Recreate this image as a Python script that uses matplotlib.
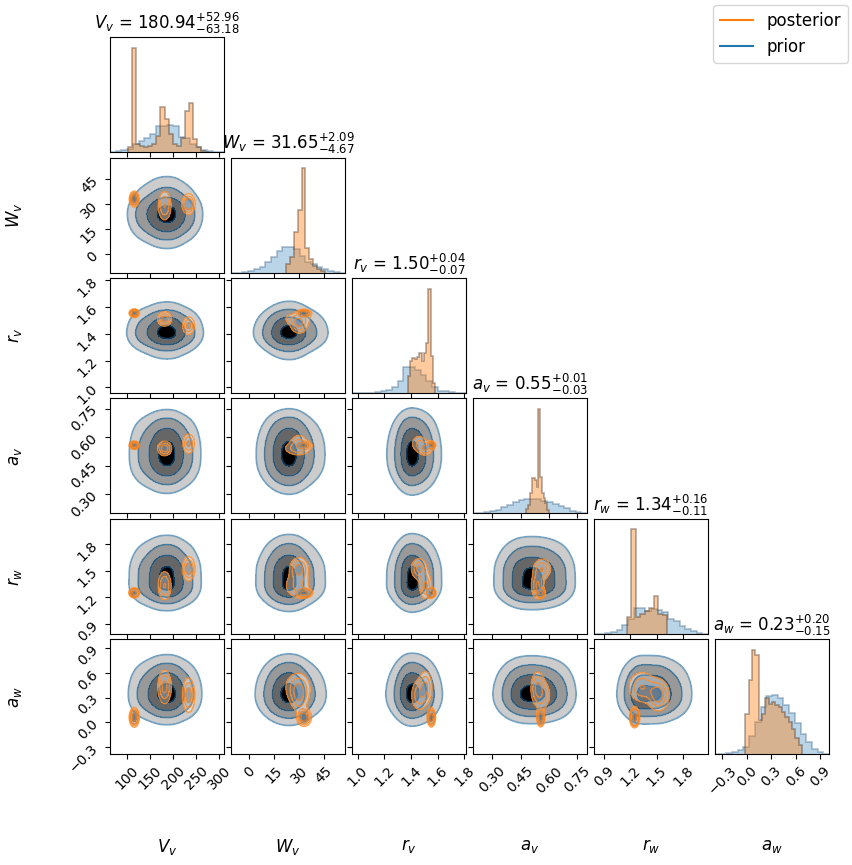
import numpy as np
import matplotlib
matplotlib.use("Agg")
import matplotlib.pyplot as plt
from matplotlib.lines import Line2D

labels = [r"$V_v$", r"$W_v$", r"$r_v$", r"$a_v$", r"$r_w$", r"$a_w$"]
limits = [(62.4, 310.8), (-10.8, 57.7), (0.958, 1.815),
          (0.198, 0.803), (0.79, 2.08), (-0.39, 1.01)]
ticks = [[100, 150, 200, 250, 300], [0, 15, 30, 45], [1.0, 1.2, 1.4, 1.6, 1.8],
         [0.30, 0.45, 0.60, 0.75], [0.9, 1.2, 1.5, 1.8], [-0.3, 0.0, 0.3, 0.6, 0.9]]

# median and errors shown in the titles
med = [180.94, 31.65, 1.50, 0.55, 1.34, 0.23]
err_hi = [52.96, 2.09, 0.04, 0.01, 0.16, 0.20]
err_lo = [63.18, 4.67, 0.07, 0.03, 0.11, 0.15]

# prior histograms, 20 bins over each axis range
prior_vv = [0, 3, 5, 10, 25, 33, 43, 55, 78, 78, 80, 78, 45, 43, 25, 15, 5, 3, 1, 0]
prior_wv = [0, 0, 2, 5, 10, 17, 30, 47, 65, 75, 77, 70, 50, 30, 25, 15, 10, 5, 1, 0]
prior_rv = [0, 0, 0, 1, 2, 6, 10, 19, 37, 79, 79, 70, 55, 35, 17, 7, 6, 2, 0, 0]
prior_av = [0, 1, 3, 6, 10, 18, 25, 35, 40, 42, 42, 42, 38, 34, 28, 22, 15, 8, 4, 2]
prior_rw = [0, 1, 3, 6, 12, 28, 45, 78, 78, 70, 75, 72, 65, 45, 40, 25, 15, 8, 3, 1]
prior_aw = [0, 1, 3, 6, 12, 22, 55, 95, 140, 175, 177, 167, 147, 122, 92, 62, 37, 17, 7, 2]
prior_counts = [prior_vv, prior_wv, prior_rv, prior_av, prior_rw, prior_aw]

# posterior histograms, each over its own range
post_vv = [16, 311, 23, 18, 15, 18, 25, 48, 133, 98, 55, 25, 18, 43, 123, 146, 40, 15, 3, 0]
post_wv = [25, 47, 120, 185, 310, 73, 40, 20, 10, 4]
post_rv = [52, 95, 105, 100, 108, 118, 95, 120, 150, 312, 110, 30]
post_av = [12, 25, 60, 105, 105, 100, 80, 312, 110, 60, 45, 30, 10]
post_rw = [52, 315, 50, 60, 68, 78, 113, 60, 57]
post_aw = [120, 222, 312, 297, 102, 120, 167, 150, 155, 148, 140, 125, 110, 95, 75, 50, 27]
post_counts = [post_vv, post_wv, post_rv, post_av, post_rw, post_aw]
post_ranges = [(101.6, 277.6), (22.3, 45.3), (1.3775, 1.5825),
               (0.4807, 0.600), (1.1625, 1.618), (-0.015, 0.676)]

# posterior modes seen in the 2D panels: weight, centre, width
mode_weight = [0.3, 0.35, 0.35]
mode_mu = [[115, 181, 233], [33, 29, 30], [1.553, 1.51, 1.46],
           [0.557, 0.54, 0.565], [1.25, 1.33, 1.52], [0.06, 0.43, 0.33]]
mode_sd = [[4.5, 8, 7], [2, 4.8, 3], [0.013, 0.028, 0.035],
           [0.009, 0.02, 0.028], [0.022, 0.09, 0.07], [0.05, 0.11, 0.11]]

mass_levels = [0.118, 0.393, 0.675, 0.865]

n = len(labels)
ngrid = 100
grids = [np.linspace(lo, hi, ngrid) for lo, hi in limits]


def prior_profile(k):
    lo, hi = limits[k]
    edges = np.linspace(lo, hi, len(prior_counts[k]) + 1)
    idx = np.clip(np.searchsorted(edges, grids[k]) - 1, 0, len(prior_counts[k]) - 1)
    p = np.asarray(prior_counts[k], float)[idx]
    kern = np.exp(-0.5 * (np.arange(-15, 16) / 5.0) ** 2)
    return np.convolve(p, kern / kern.sum(), mode="same")


def mode_profile(k, m):
    g = grids[k]
    return np.exp(-0.5 * ((g - mode_mu[k][m]) / mode_sd[k][m]) ** 2) / mode_sd[k][m]


def density_levels(H):
    hs = np.sort(H.ravel())[::-1]
    cum = np.cumsum(hs)
    cum /= cum[-1]
    return np.sort([hs[min(np.searchsorted(cum, q), len(hs) - 1)] for q in mass_levels])


prior_p = [prior_profile(k) for k in range(n)]

prior_fill = [(0, 0, 0, 0.2), (0, 0, 0, 0.4), (0, 0, 0, 0.6), (0, 0, 0, 1.0)]
post_fill = [(1, 1, 1, 0.45), (0.78, 0.84, 0.9, 0.6), (0.55, 0.65, 0.75, 0.75), (0.35, 0.45, 0.55, 0.9)]

fig, axes = plt.subplots(n, n, figsize=(8.53, 8.65), dpi=100)
fig.subplots_adjust(left=0.129, right=0.972, bottom=0.128, top=0.957, wspace=0.058, hspace=0.048)

for i in range(n):
    for j in range(n):
        ax = axes[i, j]
        if j > i:
            ax.set_axis_off()
            continue
        if i == j:
            lo, hi = limits[i]
            pe = np.linspace(lo, hi, len(prior_counts[i]) + 1)
            ax.stairs(prior_counts[i], pe, fill=True, color="C0", alpha=0.3, lw=0)
            ax.stairs(prior_counts[i], pe, color="#1f4f74", alpha=0.35, lw=1.2)
            qe = np.linspace(*post_ranges[i], len(post_counts[i]) + 1)
            ax.stairs(post_counts[i], qe, fill=True, color="C1", alpha=0.4, lw=0)
            ax.stairs(post_counts[i], qe, color="#3a2a20", alpha=0.4, lw=1.2)
            ax.set_xlim(lo, hi)
            ax.set_ylim(0, 1.1 * max(post_counts[i]))
            ax.set_yticks([])
            ax.set_title(labels[i] + " = $%.2f_{-%.2f}^{+%.2f}$" % (med[i], err_lo[i], err_hi[i]),
                         fontsize=12)
        else:
            gx, gy = grids[j], grids[i]
            Hp = np.outer(prior_p[i], prior_p[j])
            V = density_levels(Hp)
            ax.contourf(gx, gy, Hp, levels=list(V) + [Hp.max() * 1.0001], colors=prior_fill,
                        antialiased=False)
            ax.contour(gx, gy, Hp, levels=V, colors="C0", alpha=0.5, linewidths=1.3)
            Hq = sum(mode_weight[m] * np.outer(mode_profile(i, m), mode_profile(j, m))
                     for m in range(len(mode_weight)))
            Vq = density_levels(Hq)
            ax.contourf(gx, gy, Hq, levels=list(Vq) + [Hq.max() * 1.0001], colors=post_fill,
                        antialiased=False)
            ax.contour(gx, gy, Hq, levels=Vq, colors="C1", alpha=0.75, linewidths=1.0)
            ax.set_xlim(*limits[j])
            ax.set_ylim(*limits[i])
            ax.set_yticks(ticks[i])
            if j == 0:
                ax.set_ylabel(labels[i], fontsize=12)
                ax.yaxis.set_label_coords(-0.75, 0.5)
                for t in ax.get_yticklabels():
                    t.set_rotation(45)
            else:
                ax.set_yticklabels([])
        ax.set_xticks(ticks[j])
        if i == n - 1:
            ax.set_xlabel(labels[j], fontsize=12)
            ax.xaxis.set_label_coords(0.5, -0.72)
            for t in ax.get_xticklabels():
                t.set_rotation(45)
        else:
            ax.set_xticklabels([])

handles = [Line2D([], [], color="C1"), Line2D([], [], color="C0")]
fig.legend(handles, ["posterior", "prior"], loc="upper right", fontsize=12,
           bbox_to_anchor=(1.0, 1.0), borderaxespad=0.3)

fig.savefig("out.png", dpi=100)
